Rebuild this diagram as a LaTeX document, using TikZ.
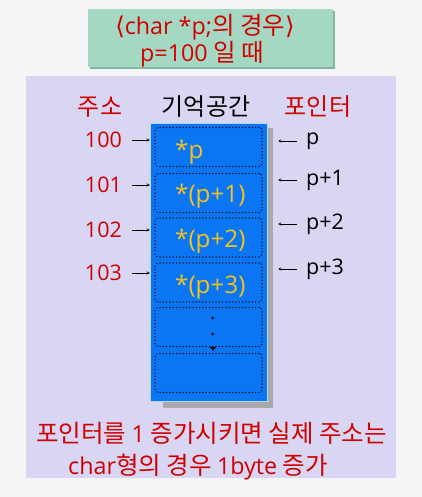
\documentclass[tikz,border=0pt]{standalone}
\usepackage{fontspec}
\setmainfont{Noto Sans CJK KR}
\newfontfamily\lat[Scale=0.95]{Open Sans}
\newfontfamily\symfont{DejaVu Sans}
\definecolor{bgwhite}{HTML}{F5F5F7}
\definecolor{panel}{HTML}{D8D6F2}
\definecolor{titlegreen}{HTML}{A4D8C2}
\definecolor{titleedge}{HTML}{80B89F}
\definecolor{memblue}{HTML}{0A76F4}
\definecolor{shadowgray}{HTML}{A9A9AB}
\definecolor{valyellow}{HTML}{F4C21C}
\definecolor{labred}{HTML}{D10000}
\newcommand{\headfont}{\fontsize{24}{24}\selectfont}
\newcommand{\notefont}{\fontsize{24.5}{24.5}\selectfont}
\newcommand{\labfont}{\lat\fontsize{22.6}{22.6}\selectfont}
\newcommand{\valfont}{\lat\fontsize{25.5}{25.5}\selectfont}

\begin{document}
\begin{tikzpicture}[x=1pt, y=-1pt, >=stealth,
    cell/.style={draw, rounded corners=3pt, line width=1.5pt, line cap=round,
        dash pattern=on 0pt off 3.3pt, minimum width=107pt, minimum height=39pt, inner sep=0pt},
    addr/.style={text=labred, font=\labfont, anchor=east, inner sep=0pt},
    ptr/.style={font=\labfont, anchor=west, inner sep=0pt},
    val/.style={text=valyellow, font=\valfont, anchor=west, inner sep=0pt},
    head/.style={font=\headfont, inner sep=0pt},
    note/.style={text=labred, font=\notefont, inner sep=0pt}]
    % 1. Nền
    \fill[bgwhite] (0,0) rectangle (422,497);
    \fill[panel] (26,76) rectangle (396,478);

    % 2. Hộp tiêu đề
    \fill[titleedge] (90,11) rectangle (335,69);
    \fill[titlegreen] (88,9) rectangle (333,67);
    \node[note] (t1) at (205,27) {{\symfont ⟨}{\lat char *p;}의 경우{\symfont ⟩}};
    \node[note] (t2) at (202,54) {{\lat p=100} 일 때};

    % 3. Tiêu đề cột
    \node[head, text=labred] (h1) at (100,107) {주소};
    \node[head] (h2) at (206,107) {기억공간};
    \node[head, text=labred] (h3) at (318,107) {포인터};

    % 4. Bộ nhớ
    \fill[shadowgray] (163,128) rectangle (273,408);
    \node[draw=white!70!memblue, fill=memblue, minimum width=117pt, minimum height=278pt,
        inner sep=0pt] (mem) at (208.5,262) {};
    \node[cell] (c0) at (208.5,147) {};
    \node[cell] (c1) at (208.5,193) {};
    \node[cell] (c2) at (208.5,237.5) {};
    \node[cell] (c3) at (208.5,282.5) {};
    \node[cell] (c4) at (208.5,327) {};
    \node[cell] (c5) at (208.5,373) {};
    \node[val] (v0) at (175,152) {*p};
    \node[val] (v1) at (175,196) {*(p+1)};
    \node[val] (v2) at (175,241) {*(p+2)};
    \node[val] (v3) at (175,287) {*(p+3)};
    \fill (c4.center) ++(4,-9) circle (1.5pt);
    \fill (c4.center) ++(4,7) circle (1.5pt);
    \fill (210,347) -- (216,347) -- (213,351) -- cycle;

    % 5. Địa chỉ
    \node[addr] (a0) at (122,140) {100};
    \node[addr] (a1) at (122,185) {101};
    \node[addr] (a2) at (122,230) {102};
    \node[addr] (a3) at (122,273) {103};
    \draw[->, shorten <=10pt] (a0.east) -- (a0.east -| mem.west);
    \draw[->, shorten <=10pt] (a1.east) -- (a1.east -| mem.west);
    \draw[->, shorten <=10pt] (a2.east) -- (a2.east -| mem.west);
    \draw[->, shorten <=10pt] (a3.east) -- (a3.east -| mem.west);

    % 6. Con trỏ
    \node[ptr] (q0) at (306,141) {p};
    \node[ptr] (q1) at (306,180) {p+1};
    \node[ptr] (q2) at (306,224) {p+2};
    \node[ptr] (q3) at (306,269) {p+3};
    \draw[->, shorten <=9pt, shorten >=11pt] (q0.west) -- (q0.west -| mem.east);
    \draw[->, shorten <=9pt, shorten >=11pt] (q1.west) -- (q1.west -| mem.east);
    \draw[->, shorten <=9pt, shorten >=11pt] (q2.west) -- (q2.west -| mem.east);
    \draw[->, shorten <=9pt, shorten >=11pt] (q3.west) -- (q3.west -| mem.east);

    % 7. Ghi chú
    \node[note] (n1) at (211.5,433) {포인터를 {\lat 1} 증가시키면 실제 주소는};
    \node[note] (n2) at (198,467) {{\lat char}형의 경우 {\lat 1byte} 증가};
\end{tikzpicture}
\end{document}
